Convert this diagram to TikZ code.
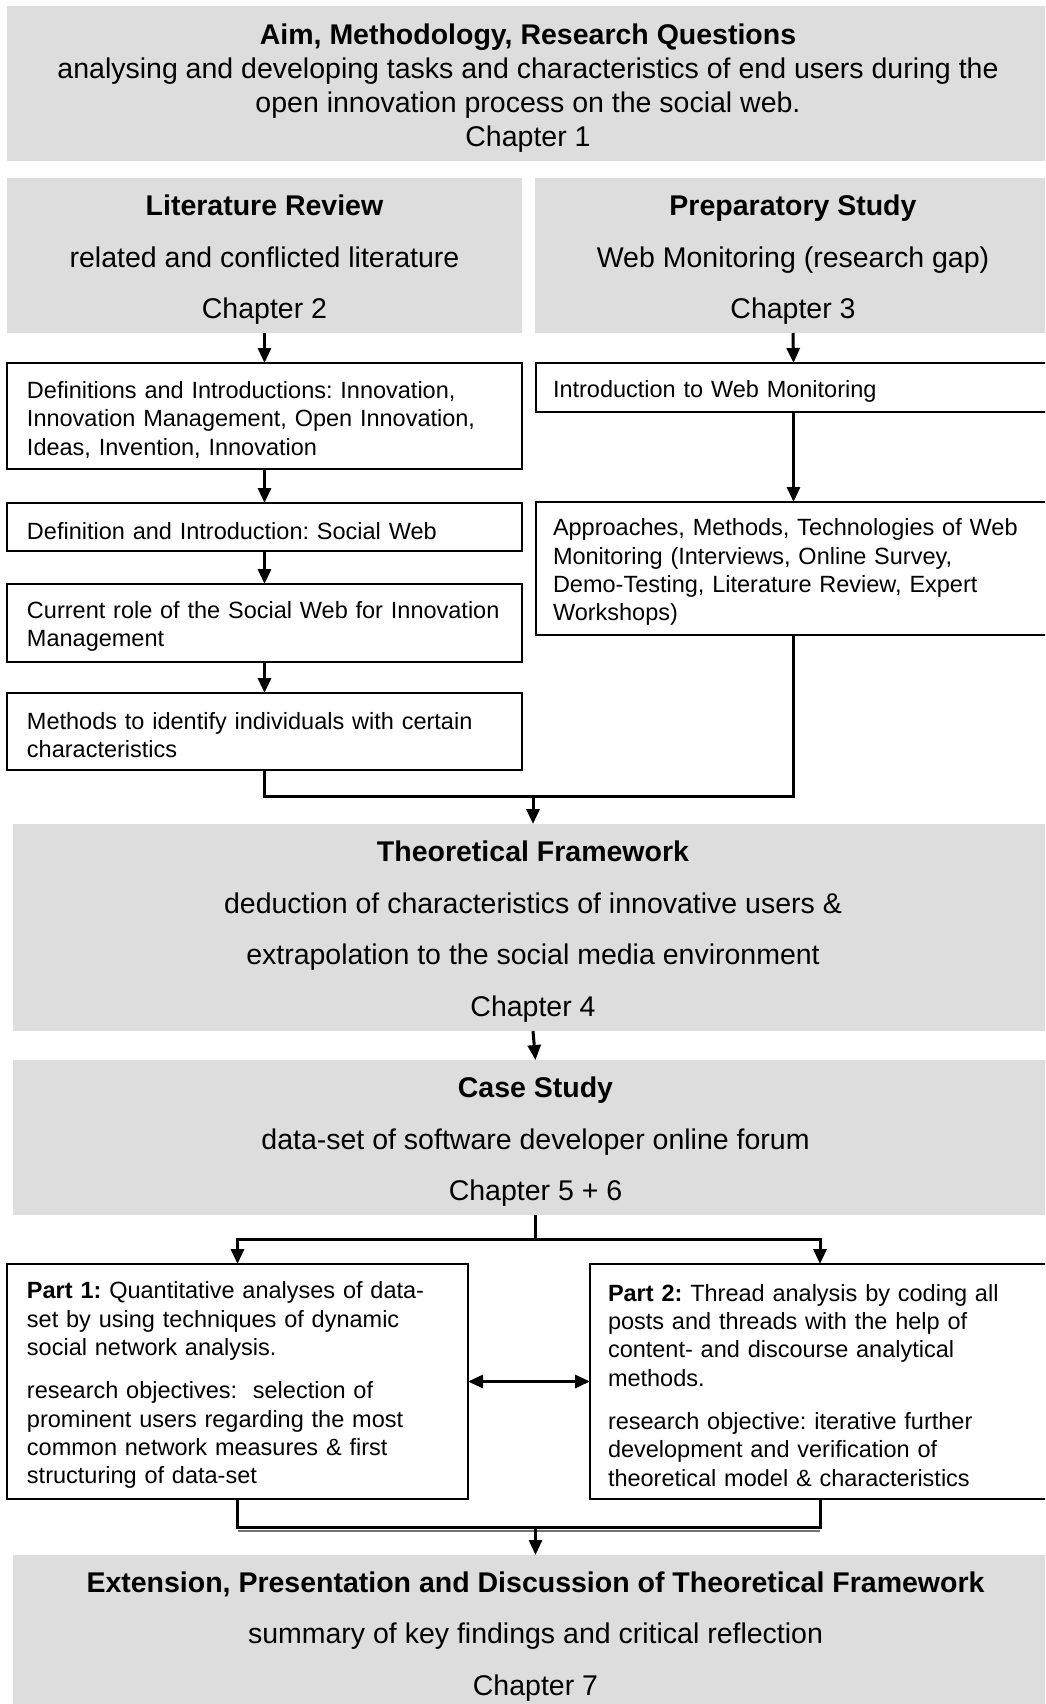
\documentclass[tikz,border=0pt]{standalone}
\usepackage{fontspec}
\setmainfont{Liberation Sans}
\usetikzlibrary{arrows.meta}
\definecolor{panelgray}{RGB}{221,221,221}
\frenchspacing
% extra room above the first line of a panel text
\newcommand{\panelstrut}{\rule{0pt}{29pt}}
\begin{document}
\begin{tikzpicture}[x=1pt,y=-1pt,
  every node/.style={inner sep=0pt, outer sep=0pt},
  graybox/.style={fill=panelgray, anchor=north west, align=center,
    font=\fontsize{28.5}{51.5}\selectfont},
  whitebox/.style={draw=black, line width=2pt, fill=white, anchor=north west,
    align=left, inner xsep=20pt, inner ysep=3pt,
    font=\fontsize{23.5}{28.3}\selectfont,
    execute at begin node={\rule{0pt}{24.5pt}}},
  conn/.style={line width=3pt},
  arr/.style={line width=3pt, -{Triangle[length=15pt,width=13pt]}},
  darr/.style={line width=3pt, {Triangle[length=15pt,width=13pt]}-{Triangle[length=15pt,width=13pt]}},
]
\clip (0,0) rectangle (1045,1704);
\fill[white] (0,0) rectangle (1045,1704);

% chapter panels
\node[graybox, minimum width=1042, minimum height=155,
  font=\fontsize{28.5}{34}\selectfont] (aim) at (7,6)
  {\panelstrut\textbf{Aim, Methodology, Research Questions}\\
   analysing and developing tasks and characteristics of end users during the\\
   open innovation process on the social web.\\
   Chapter 1};
\node[graybox, minimum width=515, minimum height=155] (lit) at (7,178)
  {\panelstrut\textbf{Literature Review}\\related and conflicted literature\\Chapter 2};
\node[graybox, minimum width=516, minimum height=155] (prep) at (535,178)
  {\panelstrut\textbf{Preparatory Study}\\Web Monitoring (research gap)\\Chapter 3};

% literature review steps
\node[whitebox, text width=475, minimum height=106] (def) at (7,363)
  {Definitions and Introductions: Innovation,\\
   Innovation Management, Open Innovation,\\
   Ideas, Invention, Innovation};
\node[whitebox, text width=475, minimum height=48] (social) at (7,503)
  {Definition and Introduction: Social Web};
\node[whitebox, text width=475, minimum height=78] (current) at (7,584)
  {Current role of the Social Web for Innovation\\Management};
\node[whitebox, text width=475, minimum height=77] (methods) at (7,693)
  {Methods to identify individuals with certain\\characteristics};

% preparatory study steps
\node[whitebox, inner xsep=17pt, text width=481, minimum height=49] (intro) at (536,363)
  {Introduction to Web Monitoring};
\node[whitebox, inner xsep=17pt, text width=481, minimum height=133] (appr) at (536,502)
  {Approaches, Methods, Technologies of Web\\
   Monitoring (Interviews, Online Survey,\\
   Demo-Testing, Literature Review, Expert\\
   Workshops)};

\node[graybox, minimum width=1040, minimum height=207] (theo) at (13,824)
  {\panelstrut\textbf{Theoretical Framework}\\
   deduction of characteristics of innovative users \&\\
   extrapolation to the social media environment\\
   Chapter 4};
\node[graybox, minimum width=1045, minimum height=155] (case) at (13,1060)
  {\panelstrut\textbf{Case Study}\\data-set of software developer online forum\\Chapter 5 + 6};

% case study parts
\node[whitebox, text width=421, minimum height=235] (p1) at (7,1264)
  {\textbf{Part 1:} Quantitative analyses of data-\\
   set by using techniques of dynamic\\
   social network analysis.\\[15pt]
   research objectives:\ \ selection of\\
   prominent users regarding the most\\
   common network measures \& first\\
   structuring of data-set};
\node[whitebox, inner xsep=18pt, text width=424, minimum height=235,
  execute at begin node={\rule{0pt}{18.5pt}}] (p2) at (590,1264)
  {\textbf{Part 2:} Thread analysis by coding all\\
   posts and threads with the help of\\
   content- and discourse analytical\\
   methods.\\[15pt]
   research objective: iterative further\\
   development and verification of\\
   theoretical model \& characteristics};

\node[graybox, minimum width=1045, minimum height=154] (final) at (13,1555)
  {\panelstrut\textbf{Extension, Presentation and Discussion of Theoretical Framework}\\
   summary of key findings and critical reflection\\
   Chapter 7};

% connectors
\draw[arr] (lit.south) -- (def.north);
\draw[arr] (def.south) -- (social.north);
\draw[arr] (social.south) -- (current.north);
\draw[arr] (current.south) -- (methods.north);
\draw[arr] (prep.south) -- (intro.north);
\draw[arr] (intro.south) -- (appr.north);

\coordinate (busA) at (533,796);
\draw[conn] (methods.south) |- (busA) -| (appr.south);
\draw[arr] (busA) -- (theo.north);

\draw[arr] (theo.south) -- (case.north);

\coordinate (busB) at (535.5,1239);
\draw[conn] (case.south) -- (busB);
\draw[arr] (busB) -| (p1.north);
\draw[arr] (busB) -| (p2.north);

\draw[darr] (p1.east) -- (p2.west);

\coordinate (busC) at (535.5,1527);
\coordinate (shadeL) at (237.5,1531);
\coordinate (shadeR) at (820,1531);
\draw[line width=1.5pt, black!55] (shadeL) -- (shadeR);
\draw[conn] (p1.south) |- (busC) -| (p2.south);
\draw[arr] (busC) -- (final.north);
\end{tikzpicture}
\end{document}
